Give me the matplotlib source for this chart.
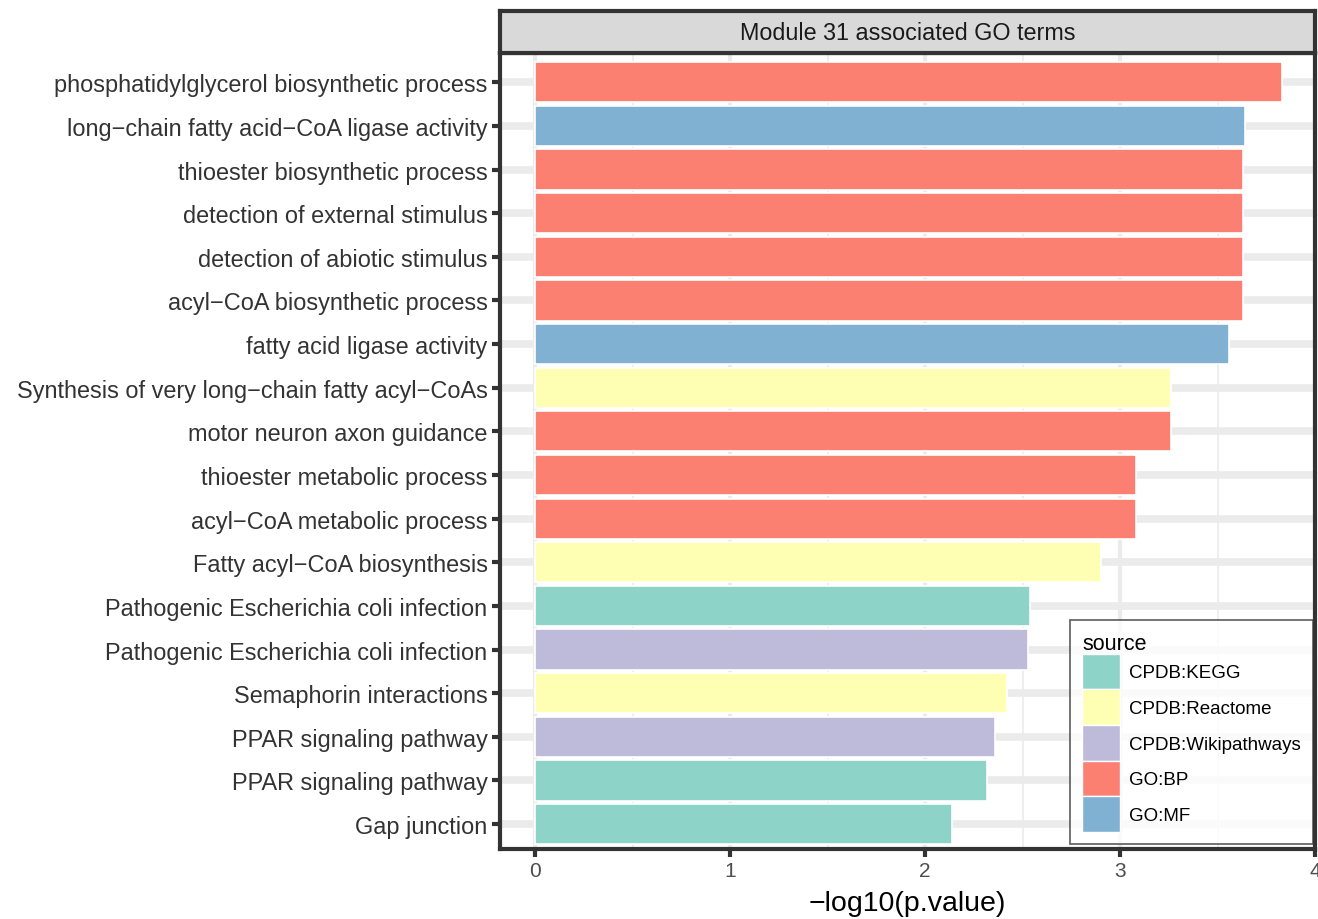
import matplotlib.pyplot as plt
from matplotlib.patches import Patch

plt.rcParams['font.family'] = ['Liberation Sans', 'DejaVu Sans']

# data, top row first
terms = ["phosphatidylglycerol biosynthetic process",
         "long\u2212chain fatty acid\u2212CoA ligase activity",
         "thioester biosynthetic process",
         "detection of external stimulus",
         "detection of abiotic stimulus",
         "acyl\u2212CoA biosynthetic process",
         "fatty acid ligase activity",
         "Synthesis of very long\u2212chain fatty acyl\u2212CoAs",
         "motor neuron axon guidance",
         "thioester metabolic process",
         "acyl\u2212CoA metabolic process",
         "Fatty acyl\u2212CoA biosynthesis",
         "Pathogenic Escherichia coli infection",
         "Pathogenic Escherichia coli infection",
         "Semaphorin interactions",
         "PPAR signaling pathway",
         "PPAR signaling pathway",
         "Gap junction"]
sources = ["GO:BP", "GO:MF", "GO:BP", "GO:BP", "GO:BP", "GO:BP", "GO:MF",
           "CPDB:Reactome", "GO:BP", "GO:BP", "GO:BP", "CPDB:Reactome",
           "CPDB:KEGG", "CPDB:Wikipathways", "CPDB:Reactome",
           "CPDB:Wikipathways", "CPDB:KEGG", "CPDB:KEGG"]
values = [3.83, 3.64, 3.63, 3.63, 3.63, 3.63, 3.56, 3.26, 3.26, 3.08, 3.08,
          2.90, 2.54, 2.53, 2.42, 2.36, 2.32, 2.14]

source_names = ["CPDB:KEGG", "CPDB:Reactome", "CPDB:Wikipathways", "GO:BP", "GO:MF"]
source_colors = ["#8DD3C7", "#FFFFB3", "#BEBADA", "#FB8072", "#80B1D3"]
cmap = dict(zip(source_names, source_colors))

fig = plt.figure(figsize=(13.18, 9.2), dpi=100)
W, H = 1318, 920
ax = fig.add_axes([500 / W, 1 - 850 / H, 815 / W, 796 / H])

n = len(terms)
ypos = list(range(n - 1, -1, -1))

# grid
for x in [0.5, 1.5, 2.5, 3.5]:
    ax.axvline(x, color="#EBEBEB", lw=1.2, zorder=0)
for x in [0, 1, 2, 3, 4]:
    ax.axvline(x, color="#EBEBEB", lw=3, zorder=0)
for y in ypos:
    ax.axhline(y, color="#EBEBEB", lw=5.5, zorder=0)

ax.barh(ypos, values, height=0.92, color=[cmap[s] for s in sources],
        edgecolor="white", linewidth=1.2, zorder=2)

ax.set_xlim(-0.18, 4.0)
ax.set_ylim(-0.57, n - 0.33)
ax.set_yticks(ypos)
ax.set_yticklabels(terms, fontsize=16.9, color="#333333")
ax.set_xticks([0, 1, 2, 3, 4])
ax.set_xticklabels(["0", "1", "2", "3", "4"], fontsize=15, color="#4D4D4D")
ax.tick_params(axis="both", length=6, width=3, color="#333333", pad=3)
ax.set_xlabel("\u2212log10(p.value)", fontsize=20.5, labelpad=7)
for sp in ax.spines.values():
    sp.set_linewidth(3)
    sp.set_color("#333333")

# facet strip
strip = fig.add_axes([500 / W, 1 - 54 / H, 815 / W, 42 / H])
strip.set_facecolor("#D9D9D9")
strip.set_xticks([])
strip.set_yticks([])
for sp in strip.spines.values():
    sp.set_linewidth(3)
    sp.set_color("#333333")
strip.text(0.5, 0.5, "Module 31 associated GO terms", ha="center", va="center",
           fontsize=16.8, color="#1A1A1A", transform=strip.transAxes)

handles = [Patch(facecolor=c, edgecolor="white", label=s)
           for s, c in zip(source_names, source_colors)]
leg = ax.legend(handles=handles, title="source", loc="lower right",
                bbox_to_anchor=(0.9975, 0.006), borderaxespad=0,
                fontsize=13.5, title_fontsize=15.5,
                frameon=True, fancybox=False, edgecolor="#333333",
                handlelength=2.0, handleheight=2.55, handletextpad=0.5,
                labelspacing=0.0, borderpad=0.65, alignment="left")
leg.get_frame().set_linewidth(1.2)
leg.set_zorder(5)

fig.savefig("out.png", dpi=100)
